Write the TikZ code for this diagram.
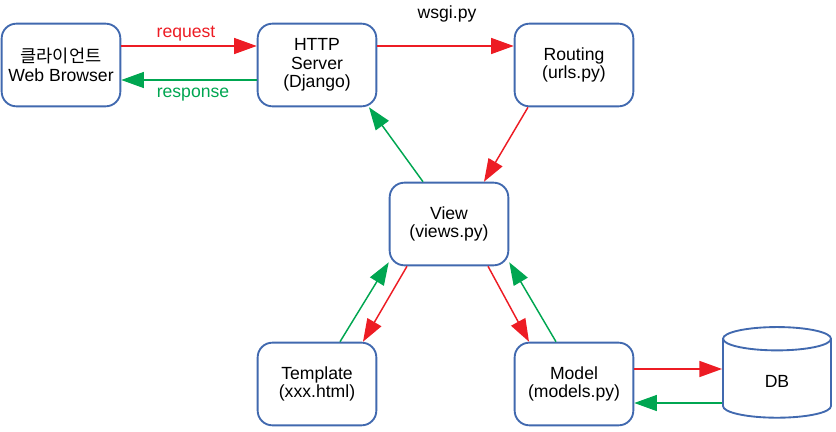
\documentclass[tikz,border=0pt]{standalone}
\usepackage{fontspec}
\setmainfont{Liberation Sans}
\newfontfamily\krfont{Noto Sans CJK KR}
\usetikzlibrary{arrows.meta,shapes.geometric,calc}
\definecolor{boxblue}{RGB}{65,105,175}
\definecolor{reqred}{RGB}{237,28,36}
\definecolor{resgreen}{RGB}{0,166,81}
\tikzset{>={Triangle[length=17pt,width=12pt]}}
\tikzset{%
    block/.style={draw=boxblue, line width=1.4pt, rounded corners=11pt, fill=white,
        minimum width=89pt, minimum height=62pt, align=center,
        font=\fontsize{13.2}{14}\selectfont},
    store/.style={draw=boxblue, line width=1.4pt, cylinder, shape border rotate=90,
        aspect=0.7, minimum width=81pt, minimum height=68pt, fill=white,
        font=\fontsize{13.2}{14}\selectfont},
    req/.style={->, reqred, line width=1.1pt},
    res/.style={->, resgreen, line width=1.1pt}
}

\begin{document}
\begin{tikzpicture}[x=0.75pt,y=-0.75pt]
    \useasboundingbox (0,0) rectangle (836,432);
    \node[block] (client) at (61,65) {{\krfont 클라이언트}\\Web Browser};
    \node[block] (server) at (317,65) {HTTP\\Server\\(Django)};
    \node[block] (routing) at (574,65) {Routing\\(urls.py)};
    \node[block] (view) at (449,224) {View\\(views.py)};
    \node[block] (template) at (317,384) {Template\\(xxx.html)};
    \node[block] (model) at (574,384) {Model\\(models.py)};
    \node[store] (db) at (777,381) {DB};
    % labels
    \node[reqred, font=\fontsize{13.2}{14}\selectfont] (reqlabel) at (186,34) {request};
    \node[resgreen, font=\fontsize{13.2}{14}\selectfont] (reslabel) at (193,95) {response};
    \node[font=\fontsize{13.2}{14}\selectfont] (wsgilabel) at (447,14) {wsgi.py};
    % request / response
    \draw[req] ($(client.east)+(0,-19)$) -- ($(server.west)+(0,-19)$);
    \draw[res] ($(server.west)+(0,15)$) -- ($(client.east)+(0,15)$);
    \draw[req] ($(server.east)+(0,-19)$) -- ($(routing.west)+(0,-19)$);
    \draw[req] ($(routing.south)+(-46,0)$) -- ($(view.north)+(35,0)$);
    \draw[res] ($(view.north)+(-26,0)$) -- ($(server.south)+(52,0)$);
    \draw[res] ($(template.north)+(23,0)$) -- ($(view.south west)+(0,-4)$);
    \draw[req] ($(view.south)+(-42,0)$) -- ($(template.north)+(46,0)$);
    \draw[req] ($(view.south)+(39,0)$) -- ($(model.north)+(-45,0)$);
    \draw[res] ($(model.north)+(-18,0)$) -- ($(view.south east)+(0,-4)$);
    \coordinate (m1) at ($(model.east)+(0,-15)$);
    \coordinate (m2) at ($(model.east)+(0,19)$);
    \draw[req] (m1) -- (m1 -| db.west);
    \draw[res] (m2 -| db.west) -- (m2);
\end{tikzpicture}
\end{document}
